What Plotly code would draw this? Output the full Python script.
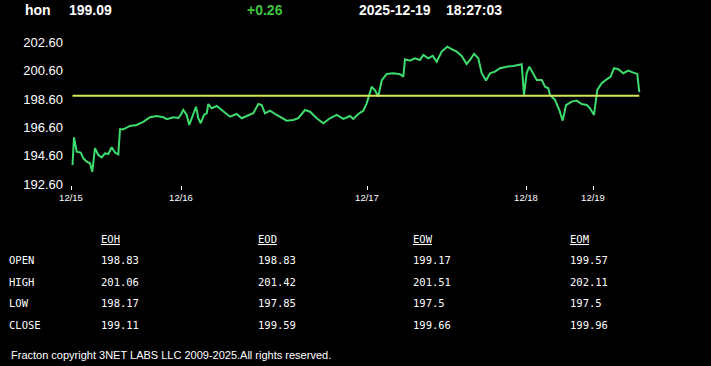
import plotly.graph_objects as go

# ---------------- data ----------------
symbol = "hon"
last_price = 199.09
change = 0.26
prev_close = 198.83
stamp_date = "2025-12-19"
stamp_time = "18:27:03"

# session time position (chart units) and price
t = [1.5, 3, 5.7, 9.7, 12.3, 15.7, 19, 21.3, 24, 27.3, 30.7, 34, 37.3, 40.7, 44, 47.3,
     49, 52.3, 59, 65.7, 72.3, 79, 85.7, 92.3, 95.7, 102.3, 107.3, 109.7, 112.3, 115.7,
     118.3, 122.3, 125, 127.3, 129.7, 133, 135.7, 137.3, 140.7, 145.7, 152.3, 159, 165.7,
     170.7, 175.7, 182.3, 187.3, 190.7, 194, 199, 205.7, 215.7, 222.3, 227.3, 234, 239,
     245.7, 252.3, 259, 265.7, 272.3, 279, 282.3, 287.3, 292.3, 295.7, 300.7, 304, 307.3,
     310.7, 315.7, 322.3, 329, 332.3, 334, 339, 344, 349, 352.3, 357.3, 361.7, 365.7,
     370.7, 376.3, 380.7, 385.7, 390.7, 395.7, 399, 403, 407.3, 410.7, 415, 419, 424,
     429, 435.7, 442.3, 450.7, 453, 455.7, 458.3, 461.7, 465.7, 470.7, 474, 477.3, 479,
     484, 488.3, 491.7, 495, 500.7, 505.7, 510.7, 515.7, 519, 523, 526.3, 530.7, 535.7,
     539.7, 543, 547.3, 552.3, 557.3, 562.3, 566.3, 568.3]
price = [193.96, 195.90, 194.90, 194.83, 194.43, 194.19, 194.08, 193.49, 195.14, 194.66,
         194.50, 194.78, 194.73, 195.21, 194.83, 194.71, 196.47, 196.47, 196.71, 196.78,
         196.99, 197.32, 197.41, 197.32, 197.18, 197.32, 197.27, 197.48, 197.83, 197.48,
         196.78, 197.60, 198.06, 197.25, 196.90, 197.48, 197.60, 198.25, 197.95, 198.11,
         197.71, 197.36, 197.55, 197.25, 197.41, 197.60, 198.25, 198.18, 197.60, 197.78,
         197.48, 197.08, 197.13, 197.25, 197.83, 197.71, 197.25, 196.90, 197.25, 197.48,
         197.20, 197.41, 197.20, 197.55, 197.78, 198.30, 199.47, 199.21, 198.78, 199.91,
         200.37, 200.42, 200.35, 200.18, 201.40, 201.30, 201.47, 201.35, 201.71, 201.47,
         201.64, 201.23, 201.94, 202.29, 202.11, 201.94, 201.64, 201.07, 201.35, 201.78,
         201.47, 200.42, 199.90, 200.42, 200.53, 200.77, 200.88, 200.93, 201.05, 198.89,
         200.42, 200.88, 200.46, 199.95, 199.95, 199.47, 199.36, 198.89, 198.54, 197.83,
         197.08, 198.18, 198.42, 198.49, 198.25, 198.18, 197.95, 197.48, 199.24, 199.71,
         199.99, 200.18, 200.77, 200.70, 200.42, 200.60, 200.46, 200.37, 199.09]

day_ticks = [0, 110, 296, 455, 522]
day_labels = ["12/15", "12/16", "12/17", "12/18", "12/19"]
y_ticks = [192.6, 194.6, 196.6, 198.6, 200.6, 202.6]

table_cols = ["EOH", "EOD", "EOW", "EOM"]
table_rows = ["OPEN", "HIGH", "LOW", "CLOSE"]
open_vals = ["198.83", "198.83", "199.17", "199.57"]
high_vals = ["201.06", "201.42", "201.51", "202.11"]
low_vals = ["198.17", "197.85", "197.5", "197.5"]
close_vals = ["199.11", "199.59", "199.66", "199.96"]

footer = "Fracton copyright 3NET LABS LLC 2009-2025.All rights reserved."

# ---------------- layout geometry ----------------
W, H = 711, 366
ML, MR, MT, MB = 70, 61, 35, 181
PW, PH = W - ML - MR, H - MT - MB


def px(xp):
    return (xp - ML) / PW


def py(yp):
    return (H - MB - yp) / PH


fig = go.Figure()
fig.add_trace(go.Scatter(x=t, y=price, mode="lines",
                         line=dict(color="#3ddc6e", width=2), hoverinfo="skip"))
fig.add_trace(go.Scatter(x=[t[0], t[-1]], y=[prev_close, prev_close], mode="lines",
                         line=dict(color="#d6e35a", width=2), hoverinfo="skip"))

ann = []
hdr_font = dict(family="Arial, Liberation Sans", size=14, color="white")
ann.append(dict(x=px(23), y=py(10), text="<b>%s</b>" % symbol, font=hdr_font))
ann.append(dict(x=px(67), y=py(10), text="<b>%.2f</b>" % last_price, font=hdr_font))
ann.append(dict(x=px(245), y=py(10), text="<b>%+.2f</b>" % change,
                font=dict(family="Arial, Liberation Sans", size=14, color="#3ec43e")))
ann.append(dict(x=px(357), y=py(10), text="<b>%s</b>" % stamp_date, font=hdr_font))
ann.append(dict(x=px(444), y=py(10), text="<b>%s</b>" % stamp_time, font=hdr_font))

mono = "DejaVu Sans Mono"
col_x = [99, 256, 411, 568]
row_y = [260, 281.5, 303, 324.5]
for cx, name in zip(col_x, table_cols):
    ann.append(dict(x=px(cx), y=py(238.5), text=name,
                    font=dict(family=mono, size=10.5, color="white", lineposition="under")))
for ry, name in zip(row_y, table_rows):
    ann.append(dict(x=px(7), y=py(ry), text=name,
                    font=dict(family=mono, size=10.5, color="white")))
for ry, vals in zip(row_y, [open_vals, high_vals, low_vals, close_vals]):
    for cx, v in zip(col_x, vals):
        ann.append(dict(x=px(cx), y=py(ry), text=v,
                        font=dict(family=mono, size=10.5, color="white")))

ann.append(dict(x=px(9), y=py(355), text=footer,
                font=dict(family="Arial, Liberation Sans", size=11, color="white")))

for a in ann:
    a.update(xref="paper", yref="paper", xanchor="left", yanchor="middle",
             showarrow=False)

fig.update_layout(
    width=W, height=H,
    margin=dict(l=ML, r=MR, t=MT, b=MB),
    paper_bgcolor="black", plot_bgcolor="black",
    showlegend=False,
    annotations=ann,
    xaxis=dict(range=[-1, 579], tickvals=day_ticks, ticktext=day_labels,
               showgrid=False, zeroline=False, showline=False,
               ticks="outside", ticklen=4, tickcolor="white", tickwidth=1,
               tickfont=dict(family="Arial, Liberation Sans", size=9.5, color="white")),
    yaxis=dict(range=[192.55, 203.11], tickvals=y_ticks,
               ticktext=["%.2f" % v for v in y_ticks],
               showgrid=False, zeroline=False, showline=False, ticks="",
               ticklabelstandoff=6,
               tickfont=dict(family="Arial, Liberation Sans", size=13, color="white")),
)

fig.write_html("out.html", config={"displayModeBar": False},
               post_script="document.body.style.margin='0';document.body.style.background='black';")
